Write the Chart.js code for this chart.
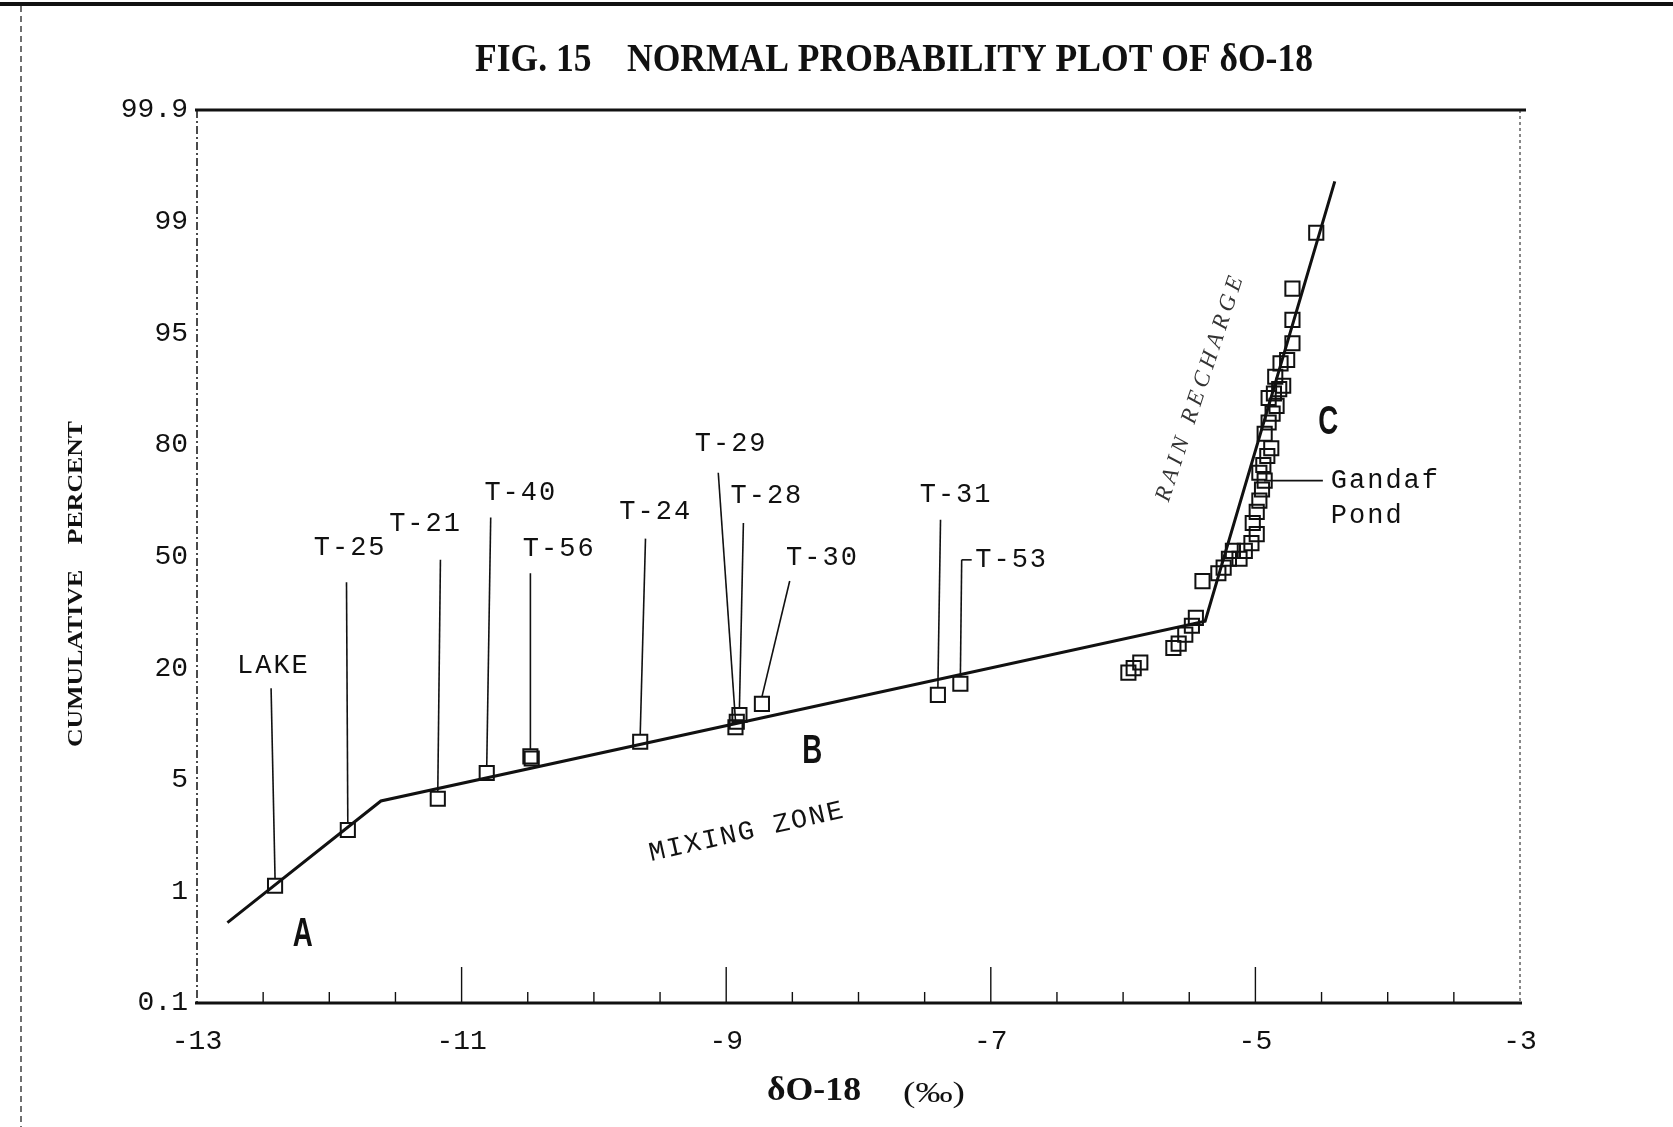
<!DOCTYPE html>
<html>
<head>
<meta charset="utf-8">
<script src="https://cdn.jsdelivr.net/npm/chart.js@4.4.1/dist/chart.umd.min.js"></script>
<style>
  html, body { margin: 0; padding: 0; background: #fff; }
  #wrap { width: 1673px; height: 1127px; }
</style>
</head>
<body>
<div id="wrap"><canvas id="mycanvas"></canvas></div>
<script>
// y axis is a probability scale with equally spaced ticks; values are in tick units (0 = 0.1 %, 8 = 99.9 %)
var yTickLabels = ['0.1', '1', '5', '20', '50', '80', '95', '99', '99.9'];

// fitted broken line
var fitX = [-12.77, -11.61, -5.38, -4.40];
var fitU = [0.72, 1.81, 3.42, 7.36];

// named wells
var wellNames = ['LAKE', 'T-25', 'T-21', 'T-40', 'T-56', 'T-24', 'T-29', 'T-28', 'T-30', 'T-31', 'T-53'];
var wellX = [-12.41, -11.86, -11.18, -10.81, -10.48, -9.65, -8.93, -8.90, -8.73, -7.40, -7.23];
var wellU = [1.05, 1.55, 1.83, 2.06, 2.21, 2.34, 2.47, 2.58, 2.68, 2.76, 2.86];

// unlabeled duplicates in the mixing zone
var extraX = [-10.47, -8.92];
var extraU = [2.19, 2.52];

// rain recharge / Gandaf Pond cluster
var pondX = [-5.96, -5.92, -5.87, -5.62, -5.58, -5.53, -5.48, -5.45, -5.40,
             -5.28, -5.24, -5.20, -5.17, -5.12, -5.08, -5.03, -4.99,
             -5.02, -4.99, -4.97, -4.95, -4.93, -4.97, -4.94, -4.91, -4.88,
             -4.93, -4.90, -4.87, -4.84, -4.90, -4.86, -4.82, -4.79, -4.85,
             -4.81, -4.76, -4.72, -4.72, -4.72, -4.54];
var pondU = [2.96, 3.00, 3.05, 3.18, 3.22, 3.30, 3.38, 3.45, 3.78,
             3.85, 3.90, 3.98, 4.05, 3.98, 4.05, 4.12, 4.20,
             4.30, 4.40, 4.50, 4.60, 4.68, 4.75, 4.82, 4.90, 4.97,
             5.10, 5.20, 5.28, 5.35, 5.42, 5.46, 5.50, 5.53, 5.61,
             5.73, 5.76, 5.91, 6.12, 6.40, 6.90];

// where each well label and its leader line sit (data units)
var labelLayout = [
  { tx: -12.43, tu: 3.02, lx: -12.44, lu: 2.82 },
  { tx: -11.85, tu: 4.08, lx: -11.87, lu: 3.77 },
  { tx: -11.28, tu: 4.29, lx: -11.16, lu: 3.97 },
  { tx: -10.56, tu: 4.57, lx: -10.78, lu: 4.35 },
  { tx: -10.27, tu: 4.07, lx: -10.48, lu: 3.85 },
  { tx: -9.54,  tu: 4.40, lx: -9.61,  lu: 4.16 },
  { tx: -8.97,  tu: 5.01, lx: -9.06,  lu: 4.75 },
  { tx: -8.70,  tu: 4.54, lx: -8.87,  lu: 4.30 },
  { tx: -8.28,  tu: 3.99, lx: -8.52,  lu: 3.78 },
  { tx: -7.27,  tu: 4.55, lx: -7.38,  lu: 4.33 },
  { tx: -6.85,  tu: 3.97, lx: -7.22,  lu: 3.97 }
];

function toPoints(xs, us) {
  var out = [];
  for (var i in xs) out.push({ x: xs[i], y: us[i] });
  return out;
}

function spacedText(ctx, text, x, y, spacing, alignLeft) {
  // draw text with extra spacing between letters, centred on x unless alignLeft
  var widths = [], total = 0;
  for (var i = 0; i < text.length; i++) {
    var w = ctx.measureText(text[i]).width;
    widths.push(w);
    total += w + (i ? spacing : 0);
  }
  var cx = alignLeft ? x : x - total / 2;
  ctx.textAlign = 'left';
  for (var j = 0; j < text.length; j++) {
    ctx.fillText(text[j], cx, y);
    cx += widths[j] + spacing;
  }
}

function fitText(ctx, text, cx, y, targetW) {
  var w = ctx.measureText(text).width;
  ctx.save();
  ctx.translate(cx, y);
  ctx.scale(targetW / w, 1);
  ctx.textAlign = 'center';
  ctx.fillText(text, 0, 0);
  ctx.restore();
}

var decor = {
  id: 'decor',
  afterDatasetsDraw: function(chart) {
    var ctx = chart.ctx, a = chart.chartArea;
    var xs = chart.scales.x, ys = chart.scales.y;
    var px = function(v) { return xs.getPixelForValue(v); };
    var py = function(v) { return ys.getPixelForValue(v); };
    ctx.save();
    ctx.strokeStyle = '#111';
    ctx.fillStyle = '#111';

    // page frame from the scan
    ctx.lineWidth = 4;
    ctx.beginPath(); ctx.moveTo(0, 4); ctx.lineTo(1673, 4); ctx.stroke();
    ctx.lineWidth = 1.2;
    ctx.setLineDash([6, 4]);
    ctx.beginPath(); ctx.moveTo(21, 6); ctx.lineTo(21, 1127); ctx.stroke();

    // plot frame
    ctx.setLineDash([8, 3, 2, 3]);
    ctx.lineWidth = 1.5;
    ctx.beginPath(); ctx.moveTo(a.left, a.top); ctx.lineTo(a.left, a.bottom); ctx.stroke();
    ctx.setLineDash([3, 3]);
    ctx.lineWidth = 1;
    ctx.beginPath(); ctx.moveTo(a.right, a.top); ctx.lineTo(a.right, a.bottom); ctx.stroke();
    ctx.setLineDash([]);
    ctx.lineWidth = 3;
    ctx.beginPath(); ctx.moveTo(a.left - 2, a.top); ctx.lineTo(a.right + 6, a.top); ctx.stroke();
    ctx.beginPath(); ctx.moveTo(a.left - 2, a.bottom); ctx.lineTo(a.right + 2, a.bottom); ctx.stroke();

    // inward ticks every 0.5
    ctx.lineWidth = 1.4;
    for (var t = -12.5; t < -3.1; t += 0.5) {
      var major = Math.abs(t % 2) === 1;
      ctx.beginPath();
      ctx.moveTo(px(t), a.bottom);
      ctx.lineTo(px(t), a.bottom - (major ? 36 : 11));
      ctx.stroke();
    }

    // leader lines and well labels
    ctx.font = '27px "Liberation Mono"';
    ctx.textBaseline = 'middle';
    for (var i in wellNames) {
      var L = labelLayout[i];
      ctx.lineWidth = 1.6;
      ctx.beginPath();
      ctx.moveTo(px(L.lx), py(L.lu));
      ctx.lineTo(px(wellX[i]), py(wellU[i]) - 7);
      ctx.stroke();
      spacedText(ctx, wellNames[i], px(L.tx), py(L.tu), 2);
    }
    // the little dash before T-53
    var k = wellNames.length - 1;
    ctx.beginPath();
    ctx.moveTo(px(labelLayout[k].lx), py(labelLayout[k].lu));
    ctx.lineTo(px(labelLayout[k].lx) + 10, py(labelLayout[k].lu));
    ctx.stroke();

    // Gandaf Pond
    ctx.lineWidth = 1.6;
    ctx.beginPath(); ctx.moveTo(px(-4.935), py(4.68)); ctx.lineTo(px(-4.49), py(4.68)); ctx.stroke();
    spacedText(ctx, 'Gandaf', px(-4.43), py(4.68), 2, true);
    spacedText(ctx, 'Pond', px(-4.43), py(4.36), 2, true);

    // zone letters
    ctx.font = 'bold 40px "Liberation Sans"';
    fitText(ctx, 'A', px(-12.2), py(0.61), 20);
    fitText(ctx, 'B', px(-8.35), py(2.25), 20);
    fitText(ctx, 'C', px(-4.45), py(5.2), 20);

    // MIXING ZONE
    ctx.font = '27px "Liberation Mono"';
    ctx.save();
    ctx.translate(px(-8.85), py(1.53));
    ctx.rotate(-12.7 * Math.PI / 180);
    spacedText(ctx, 'MIXING ZONE', 0, 0, 2);
    ctx.restore();

    // RAIN RECHARGE
    ctx.font = 'italic 23px "Liberation Serif"';
    ctx.fillStyle = '#333';
    ctx.save();
    ctx.translate(px(-5.42), py(5.50));
    ctx.rotate(-71.6 * Math.PI / 180);
    spacedText(ctx, 'RAIN RECHARGE', 0, 0, 5);
    ctx.restore();
    ctx.fillStyle = '#111';

    // title and axis titles
    ctx.textBaseline = 'alphabetic';
    ctx.font = 'bold 40px "Liberation Serif"';
    fitText(ctx, 'FIG. 15    NORMAL PROBABILITY PLOT OF \u03b4O-18', 894, 71, 838);
    ctx.font = 'bold 33px "Liberation Serif"';
    fitText(ctx, '\u03b4O-18', 814, 1100, 94);
    ctx.font = '30px "Liberation Serif"';
    fitText(ctx, '(\u2030)', 934, 1102, 62);
    ctx.save();
    ctx.translate(82, 584);
    ctx.rotate(-Math.PI / 2);
    ctx.font = 'bold 21px "Liberation Serif"';
    fitText(ctx, 'CUMULATIVE    PERCENT', 0, 0, 326);
    ctx.restore();
    ctx.restore();
  }
};

var chartdata = {
  datasets: [
    {
      label: 'wells',
      data: toPoints(wellX.concat(extraX), wellU.concat(extraU)),
      pointStyle: 'rect',
      pointRadius: 10,
      borderWidth: 2,
      borderColor: '#111',
      backgroundColor: 'rgba(255,255,255,0)',
      showLine: false
    },
    {
      label: 'pond',
      data: toPoints(pondX, pondU),
      pointStyle: 'rect',
      pointRadius: 10,
      borderWidth: 2,
      borderColor: '#111',
      backgroundColor: 'rgba(255,255,255,0)',
      showLine: false
    },
    {
      label: 'fit',
      data: toPoints(fitX, fitU),
      showLine: true,
      borderColor: '#111',
      borderWidth: 3,
      pointRadius: 0,
      tension: 0
    }
  ]
};

var ctx = document.getElementById('mycanvas');
var chart = new Chart(ctx, {
  type: 'scatter',
  data: chartdata,
  plugins: [decor],
  options: {
    responsive: true,
    maintainAspectRatio: false,
    devicePixelRatio: 1,
    animation: false,
    events: [],
    layout: { padding: { left: 0, right: 153, top: 110, bottom: 0 } },
    plugins: { legend: { display: false }, tooltip: { enabled: false } },
    scales: {
      x: {
        type: 'linear',
        min: -13,
        max: -3,
        grid: { display: false, drawTicks: false },
        border: { display: false },
        afterFit: function(s) { s.height = 124; },
        ticks: {
          stepSize: 2,
          padding: 22,
          color: '#111',
          font: { family: 'Liberation Mono', size: 28 },
          callback: function(v) { return String(v); }
        }
      },
      y: {
        type: 'linear',
        min: 0,
        max: 8,
        grid: { display: false, drawTicks: false },
        border: { display: false },
        afterFit: function(s) { s.width = 197; },
        ticks: {
          stepSize: 1,
          padding: 9,
          color: '#111',
          font: { family: 'Liberation Mono', size: 28 },
          callback: function(v) { return yTickLabels[v]; }
        }
      }
    }
  }
});
</script>
</body>
</html>
